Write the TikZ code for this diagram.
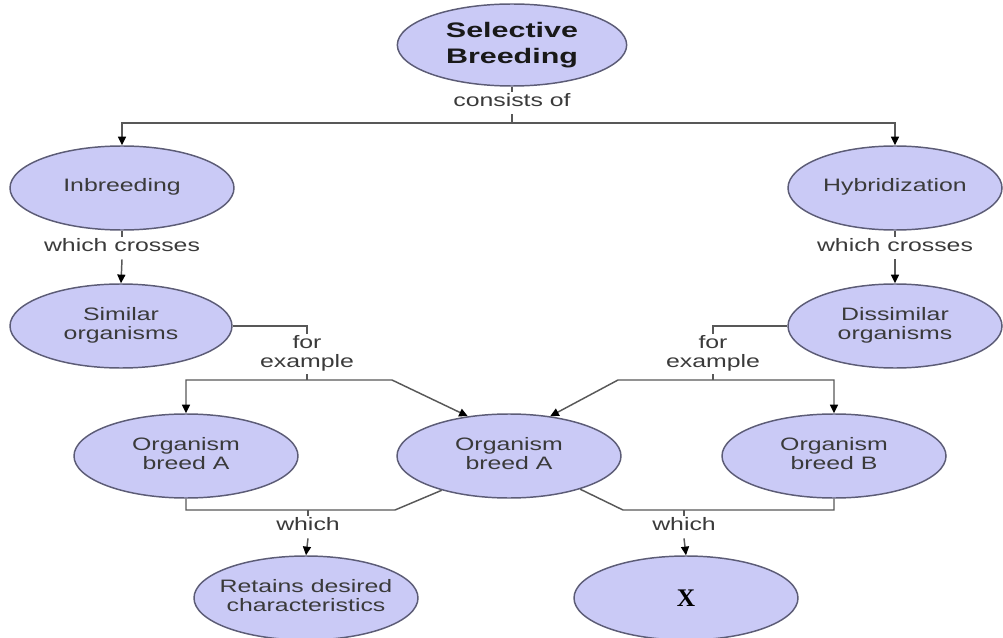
\documentclass[tikz,border=0pt]{standalone}
\usepackage{fontspec}
\setmainfont{Liberation Sans}
\newfontfamily\xserif{Liberation Serif}
\usepackage{graphicx}
\usetikzlibrary{shapes.geometric,arrows.meta}

\definecolor{bubblefill}{RGB}{202,202,246}
\definecolor{bubbleedge}{RGB}{92,92,118}
\definecolor{linkgray}{RGB}{88,88,88}
\definecolor{labelgray}{RGB}{58,58,58}

% wide centred text (one or more lines), drawn with zero width
\newcommand{\widetext}[2][1.38]{\makebox[0pt][c]{\scalebox{#1}[1]{\begin{tabular}{@{}c@{}}#2\end{tabular}}}}

\tikzset{
  >={Triangle[length=6.5pt,width=6pt,color=black]},
  bubble/.style={ellipse, draw=bubbleedge, line width=1.1pt, fill=bubblefill,
    minimum width=168pt, minimum height=63pt, inner sep=0pt, text=labelgray,
    font=\fontsize{13.5}{12.75}\selectfont},
  linklabel/.style={inner sep=1.5pt, text=labelgray,
    font=\fontsize{13.5}{12.75}\selectfont},
  link/.style={draw=linkgray, line width=1.1pt},
}

\begin{document}
\begin{tikzpicture}[x=0.75pt,y=-0.75pt]
\useasboundingbox (0,0) rectangle (1003,638);
\clip (0,0) rectangle (1003,638);

% concepts
\node[bubble, minimum width=172pt, minimum height=61.5pt, text=black!90,
      font=\fontsize{15.75}{19.5}\selectfont\bfseries]
  (sb) at (512,45) {\widetext[1.45]{Selective\\Breeding}};
\node[bubble] (inb) at (122,188) {\widetext{Inbreeding}};
\node[bubble, minimum width=160.5pt] (hyb) at (895,188) {\widetext{Hybridization}};
\node[bubble, minimum width=166.5pt] (sim) at (121,326) {\widetext{Similar\\organisms}};
\node[bubble, minimum width=160.5pt] (dis) at (895,326) {\widetext{Dissimilar\\organisms}};
\node[bubble] (oa1) at (186,456) {\widetext{Organism\\breed A}};
\node[bubble] (oam) at (509,456) {\widetext{Organism\\breed A}};
\node[bubble] (ob) at (834,456) {\widetext{Organism\\breed B}};
\node[bubble] (ret) at (306,598) {\widetext{Retains desired\\characteristics}};
\node[bubble, text=black, font=\fontsize{19}{20}\selectfont\xserif\bfseries]
  (xx) at (686,598) {X};

% link phrases
\node[linklabel] (consists) at (512,103) {\widetext{consists of}};
\node[linklabel] (wc1) at (122,248) {\widetext{which crosses}};
\node[linklabel] (wc2) at (895,248) {\widetext{which crosses}};
\node[linklabel] (fe1) at (307,354) {\widetext{for\\example}};
\node[linklabel] (fe2) at (713,354) {\widetext{for\\example}};
\node[linklabel] (wh1) at (308,527) {\widetext{which}};
\node[linklabel] (wh2) at (684,527) {\widetext{which}};

% junction points of the connectors
\coordinate (topbar) at (512,123);
\coordinate (febar1) at (307,380);
\coordinate (febend1) at (392,380);
\coordinate (febar2) at (713,380);
\coordinate (febend2) at (618,380);
\coordinate (wbar1) at (308,510);
\coordinate (wbend1) at (395,510);
\coordinate (wbar2) at (684,510);
\coordinate (wbend2) at (623,510);

% selective breeding consists of ...
\draw[link] (sb.south) -- (consists.north);
\draw[link] (consists.south) -- (topbar);
\draw[link,<->] (inb.north) -- (inb.north |- topbar) -- (hyb.north |- topbar) -- (hyb.north);

% which crosses
\draw[link] (inb.south) -- (wc1.north);
\draw[link,->] (wc1.south) -- (sim.north);
\draw[link] (hyb.south) -- (wc2.north);
\draw[link,->] (wc2.south) -- (dis.north);

% for example
\draw[link] (sim.east) -| (fe1.north);
\draw[link] (fe1.south) -- (febar1);
\draw[link,<->] (oa1.north) -- (oa1.north |- febar1) -- (febend1) -- (oam.136);
\draw[link] (dis.west) -| (fe2.north);
\draw[link] (fe2.south) -- (febar2);
\draw[link,<->] (ob.north) -- (ob.north |- febar2) -- (febend2) -- (oam.44);

% which
\draw[link] (oa1.south) -- (oa1.south |- wbar1) -- (wbend1) -- (oam.207);
\draw[link] (wbar1) -- (wh1.north);
\draw[link,->] (wh1.south) -- (ret.north);
\draw[link] (oam.335) -- (wbend2) -- (ob.south |- wbar2) -- (ob.south);
\draw[link] (wbar2) -- (wh2.north);
\draw[link,->] (wh2.south) -- (xx.north);
\end{tikzpicture}
\end{document}
